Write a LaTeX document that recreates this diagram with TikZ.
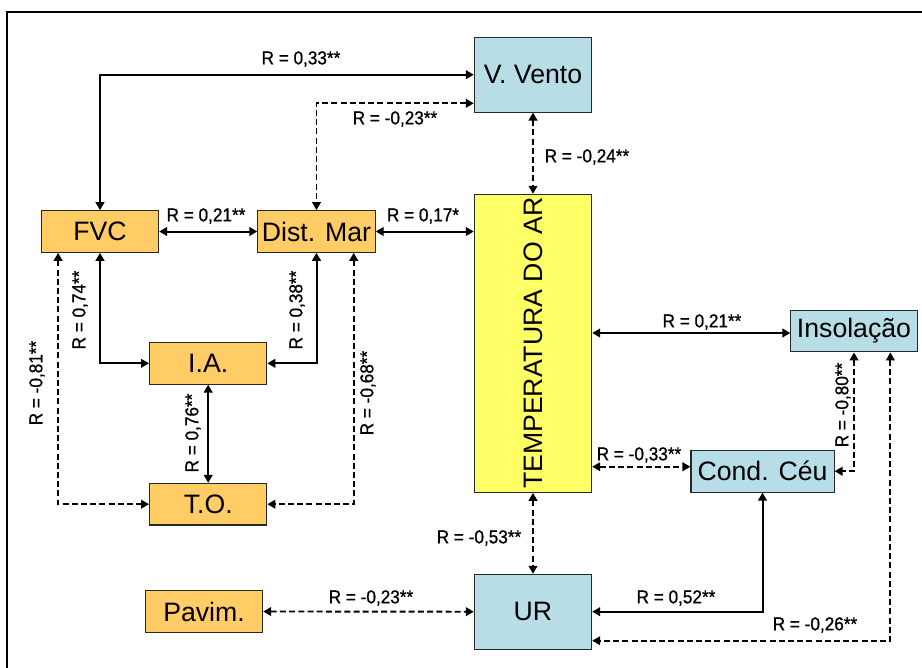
\documentclass[tikz,border=0pt]{standalone}
\usepackage{fontspec}
\setmainfont{Liberation Sans}
\newfontfamily\labfont[FakeStretch=0.92,FakeBold=0.8]{Liberation Sans}
\usetikzlibrary{arrows.meta,calc}
\definecolor{boxorange}{RGB}{255,204,102}
\definecolor{boxblue}{RGB}{183,222,230}
\definecolor{boxyellow}{RGB}{255,255,102}
\definecolor{boxline}{RGB}{40,40,40}

\begin{document}
\begin{tikzpicture}[x=0.75pt,y=0.75pt,yscale=-1,xscale=1,
  >={Triangle[length=6pt,width=6.5pt]},
  var/.style={draw=boxline,line width=0.8pt,inner sep=0pt,font=\fontsize{20}{24}\selectfont},
  orangevar/.style={var,fill=boxorange,minimum width=88pt,minimum height=31.2pt},
  bluevar/.style={var,fill=boxblue},
  link/.style={line width=1.5pt,<->},
  dlink/.style={link,line width=1.4pt,dash pattern=on 4.5pt off 2.4pt},
  lab/.style={inner sep=0pt,font=\labfont\fontsize{14}{16}\selectfont}]
\useasboundingbox (0,0) rectangle (922,668);

%Frame
\draw [line width=1.5pt] (7,668) -- (7,12) -- (922,12) ;

%Shape: Rectangle
\node [orangevar] (fvc) at (100,231.5) {FVC};
\node [orangevar] (dist) at (316.5,231.5) {Dist. Mar};
\node [orangevar] (ia) at (208.2,363.3) {I.A.};
\node [orangevar] (to) at (208.2,504.2) {T.O.};
\node [orangevar] (pavim) at (204,611.5) {Pavim.};
\node [bluevar,minimum width=88pt,minimum height=56pt] (vento) at (533,74.7) {V. Vento};
\node [var,fill=boxyellow,minimum width=88pt,minimum height=223.5pt] (temp) at (533,343.3) {};
\node [rotate=90,inner sep=0pt,font=\fontsize{20}{24}\selectfont] (templab) at (temp.center) {TEMPERATURA DO AR};
\node [bluevar,minimum width=94.7pt,minimum height=31.3pt] (insol) at (854,331) {Insolação};
\node [bluevar,minimum width=107.3pt,minimum height=31.3pt] (ceu) at (762.5,471.2) {Cond. Céu};
\node [bluevar,minimum width=88pt,minimum height=56pt] (ur) at (533,611.7) {UR};

%Straight Lines
\draw [link] (vento.west) -| (fvc.north) ;
\draw [dlink] ($(vento.west)+(0,28.6)$) -| (dist.north) ;
\draw [link] (fvc.east) -- (dist.west) ;
\draw [link] (dist.east) -- (dist.east -| temp.west) ;
\draw [dlink] (vento.south) -- (temp.north) ;
\draw [link] (fvc.south) |- (ia.west) ;
\draw [link] (dist.south) |- (ia.east) ;
\draw [dlink] ($(fvc.south west)+(17.3,0)$) |- (to.west) ;
\draw [dlink] ($(dist.south east)+(-22,0)$) |- (to.east) ;
\draw [link] (ia.south) -- (to.north) ;
\draw [link] ($(insol.west -| temp.east)+(0,2)$) -- ($(insol.west)+(0,2)$) ;
\draw [dlink] ($(ceu.west -| temp.east)+(0,-4.5)$) -- ($(ceu.west)+(0,-4.5)$) ;
\draw [dlink] (insol.south) |- (ceu.east) ;
\draw [dlink] ($(insol.south east)+(-27.3,0)$) |- ($(ur.east)+(0,29)$) ;
\draw [link] (ceu.south) |- (ur.east) ;
\draw [dlink] (temp.south) -- (ur.north) ;
\draw [dlink] (pavim.east) -- (ur.west) ;

% Text Node
\node [lab] (rfvcvento) at (301,59) {R = 0,33**};
\node [lab] (rdistvento) at (395,119) {R = -0,23**};
\node [lab] (rfvcdist) at (206,216) {R = 0,21**};
\node [lab] (rdisttemp) at (423,216) {R = 0,17*};
\node [lab] (rventotemp) at (587,157) {R = -0,24**};
\node [lab] (rtempinsol) at (702,322) {R = 0,21**};
\node [lab] (rtempceu) at (639,455) {R = -0,33**};
\node [lab,rotate=90] (rinsolceu) at (843,405) {R = -0,80**};
\node [lab] (rtempur) at (479,538) {R = -0,53**};
\node [lab] (rceuur) at (676,598) {R = 0,52**};
\node [lab] (rinsolur) at (815,625) {R = -0,26**};
\node [lab] (rpavimur) at (371,598) {R = -0,23**};
\node [lab,rotate=90] (rfvcia) at (80,310) {R = 0,74**};
\node [lab,rotate=90] (rfvcto) at (37,383) {R = -0,81**};
\node [lab,rotate=90] (rdistia) at (297,310) {R = 0,38**};
\node [lab,rotate=90] (rdistto) at (368,393) {R = -0,68**};
\node [lab,rotate=90] (riato) at (193,433) {R = 0,76**};

\end{tikzpicture}
\end{document}
